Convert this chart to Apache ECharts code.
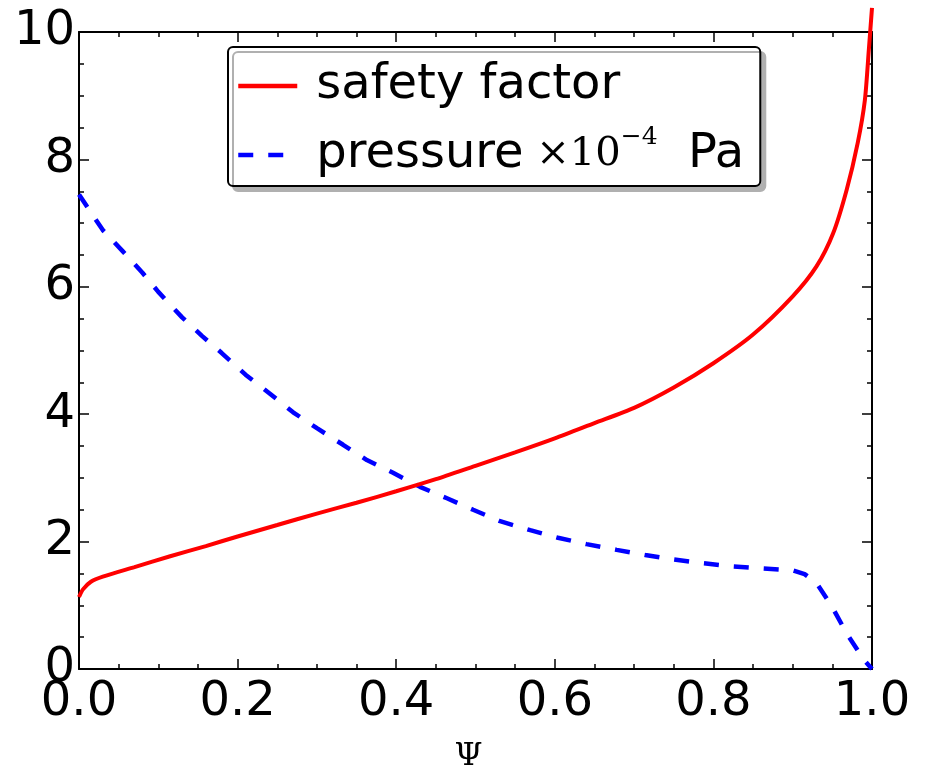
<!DOCTYPE html>
<html lang="en">
<head>
    <meta charset="UTF-8">
    <title>safety factor and pressure vs Psi</title>
    <script src="https://cdn.jsdelivr.net/npm/echarts@6.0.0/dist/echarts.min.js"></script>
    <style>
        * {
            margin: 0;
            padding: 0;
            box-sizing: border-box;
        }

        body {
            background: #ffffff;
        }

        #chart {
            width: 930px;
            height: 765px;
        }
    </style>
</head>
<body>
    <div id="chart"></div>

    <script>
        // values
        const psiSafety = [0, 0.005, 0.015, 0.03, 0.07, 0.115, 0.16, 0.2, 0.25, 0.3, 0.35, 0.4, 0.45, 0.5, 0.55, 0.6, 0.65, 0.7, 0.75, 0.8, 0.85, 0.9, 0.93, 0.951, 0.968, 0.982, 0.991, 0.996, 1.0];
        const safetyFactor = [1.13, 1.25, 1.37, 1.45, 1.60, 1.77, 1.93, 2.08, 2.26, 2.44, 2.61, 2.79, 2.98, 3.19, 3.40, 3.62, 3.86, 4.10, 4.42, 4.80, 5.25, 5.85, 6.32, 6.84, 7.52, 8.26, 8.93, 9.72, 10.38];

        const psiPressure = [0, 0.03, 0.055, 0.08, 0.1, 0.13, 0.155, 0.18, 0.21, 0.24, 0.27, 0.3, 0.333, 0.363, 0.396, 0.43, 0.464, 0.497, 0.531, 0.569, 0.604, 0.64, 0.678, 0.714, 0.75, 0.787, 0.825, 0.86, 0.9, 0.915, 0.93, 0.95, 0.968, 0.99, 1.0];
        const pressure = [7.45, 6.89, 6.56, 6.22, 5.92, 5.52, 5.23, 4.96, 4.62, 4.33, 4.03, 3.78, 3.52, 3.28, 3.08, 2.86, 2.68, 2.50, 2.32, 2.18, 2.06, 1.96, 1.87, 1.79, 1.72, 1.66, 1.61, 1.58, 1.55, 1.49, 1.35, 0.97, 0.56, 0.14, 0.0];

        const seriesNames = ['safety factor', 'pressure'];
        const xAxisName = 'Ψ';

        const pairs = (xs, ys) => xs.map((x, i) => [x, ys[i]]);

        const sans = 'DejaVu Sans';
        const serif = 'DejaVu Serif';
        const dash = 15; // equal dash and gap, as in the picture

        // shared axis look: black frame, ticks pointing in
        function frameAxis(extra) {
            return Object.assign({
                type: 'value',
                axisLine: { show: true, onZero: false, lineStyle: { color: '#000', width: 2 } },
                axisTick: { show: true, inside: true, length: 10, lineStyle: { color: '#000', width: 1.5 } },
                minorTick: { show: true, splitNumber: 4, length: 5, lineStyle: { color: '#000', width: 1.5 } },
                splitLine: { show: false },
                minorSplitLine: { show: false }
            }, extra);
        }

        const chart = echarts.init(document.getElementById('chart'), null, { renderer: 'canvas' });
        chart.setOption({
            backgroundColor: '#ffffff',
            animation: false,
            grid: { left: 79, top: 32, right: 58, bottom: 96, containLabel: false, outerBoundsMode: 'none' },
            legend: {
                data: seriesNames,
                orient: 'vertical',
                left: 228,
                top: 47,
                padding: [9, 16, 1, 8],
                itemGap: 9,
                itemWidth: 59,
                itemHeight: 14,
                backgroundColor: '#ffffff',
                borderColor: '#000',
                borderWidth: 2,
                borderRadius: 5,
                shadowColor: '#b0b0b0',
                shadowBlur: 0,
                shadowOffsetX: 5,
                shadowOffsetY: 5,
                itemStyle: { color: 'rgba(0,0,0,0)', borderColor: 'rgba(0,0,0,0)', borderWidth: 0, opacity: 0 },
                lineStyle: { width: 4.5 },
                textStyle: {
                    color: '#000',
                    height: 60,
                    lineHeight: 60,
                    padding: [0, 0, 0, 14],
                    rich: {
                        a: { fontFamily: sans, fontSize: 48, lineHeight: 60, color: '#000' },
                        b: { fontFamily: serif, fontSize: 40, lineHeight: 60, color: '#000' },
                        c: { fontFamily: serif, fontSize: 25, lineHeight: 42, verticalAlign: 'top', color: '#000' }
                    }
                },
                formatter: function (name) {
                    if (name === 'pressure') {
                        return '{a|pressure}{b| ×10}{c|−4}{a|  Pa}';
                    }
                    return '{a|' + name + '}';
                }
            },
            xAxis: [
                frameAxis({
                    position: 'bottom',
                    min: 0,
                    max: 1,
                    interval: 0.2,
                    name: xAxisName,
                    nameLocation: 'middle',
                    nameGap: 72,
                    nameTextStyle: { fontFamily: serif, fontSize: 32, color: '#000', padding: [0, 14, 0, 0] },
                    axisLabel: {
                        show: true,
                        margin: 10,
                        fontFamily: sans,
                        fontSize: 48,
                        color: '#000',
                        formatter: v => v.toFixed(1)
                    }
                }),
                frameAxis({
                    position: 'top',
                    min: 0,
                    max: 1,
                    interval: 0.2,
                    axisLabel: { show: false }
                })
            ],
            yAxis: [
                frameAxis({
                    position: 'left',
                    min: 0,
                    max: 10,
                    interval: 2,
                    axisLabel: {
                        show: true,
                        margin: 4,
                        fontFamily: sans,
                        fontSize: 48,
                        color: '#000'
                    }
                }),
                frameAxis({
                    position: 'right',
                    min: 0,
                    max: 10,
                    interval: 2,
                    axisLabel: { show: false }
                })
            ],
            series: [
                {
                    name: seriesNames[0],
                    type: 'line',
                    xAxisIndex: 0,
                    yAxisIndex: 0,
                    data: pairs(psiSafety, safetyFactor),
                    showSymbol: false,
                    symbol: 'none',
                    smooth: 0.25,
                    clip: false,
                    itemStyle: { color: '#ff0000' },
                    lineStyle: { color: '#ff0000', width: 4 },
                    z: 3
                },
                {
                    name: seriesNames[1],
                    type: 'line',
                    xAxisIndex: 0,
                    yAxisIndex: 0,
                    data: pairs(psiPressure, pressure),
                    showSymbol: false,
                    symbol: 'none',
                    smooth: false,
                    clip: false,
                    itemStyle: { color: '#0000ff' },
                    lineStyle: { color: '#0000ff', width: 4.5, type: dash, dashOffset: 0, cap: 'butt' },
                    z: 2
                }
            ]
        });
    </script>
</body>
</html>
